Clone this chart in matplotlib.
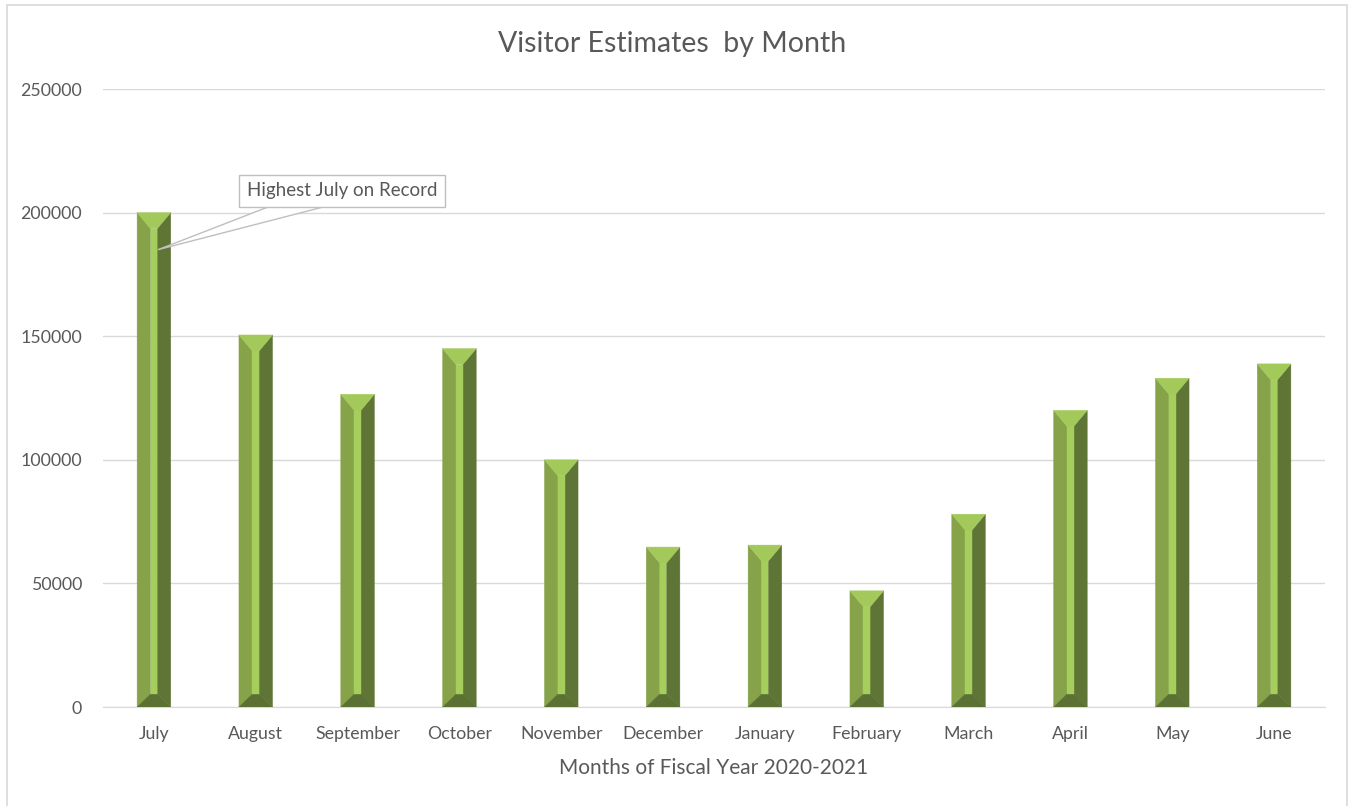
import matplotlib
matplotlib.use("Agg")
import matplotlib.pyplot as plt
from matplotlib.patches import Polygon, Rectangle
import numpy as np

# ---------------- data ----------------
months = ["July", "August", "September", "October", "November", "December",
          "January", "February", "March", "April", "May", "June"]
visitors = [200000, 150500, 126500, 145000, 100000, 64700,
            65500, 47000, 78000, 120000, 133000, 138800]
y_ticks = [0, 50000, 100000, 150000, 200000, 250000]
title = "Visitor Estimates  by Month"
x_title = "Months of Fiscal Year 2020-2021"
note = "Highest July on Record"
note_month = 0
note_value = 185000

# ---------------- style ----------------
txt = "#595959"
grid_c = "#D9D9D9"
c_left, c_mid, c_top, c_right, c_bot = "#86A349", "#A6CE5C", "#A2C95A", "#5E7535", "#5B7033"
plt.rcParams['font.family'] = ['Lato', 'DejaVu Sans']

fig = plt.figure(figsize=(13.49, 8.06), dpi=100)
ax = fig.add_axes([103/1349, 99/806, 1222/1349, 618/806])

x = np.arange(len(months))
bw = 0.33
ax.set_xlim(-0.5, len(months) - 0.5)
ax.set_ylim(0, 250000)

# bevel depths in pixels, converted to data units
px_per_unit = 618 / 250000
dy_top = 16 / px_per_unit
dy_bot = 13 / px_per_unit
bx = bw * 0.4

for xi, v in zip(x, visitors):
    L, R = xi - bw/2, xi + bw/2
    T, B = v, 0
    faces = [
        ([(L, T), (L + bx, T - dy_top), (L + bx, B + dy_bot), (L, B)], c_left),
        ([(R, T), (R - bx, T - dy_top), (R - bx, B + dy_bot), (R, B)], c_right),
        ([(L, T), (R, T), (R - bx, T - dy_top), (L + bx, T - dy_top)], c_top),
        ([(L, B), (R, B), (R - bx, B + dy_bot), (L + bx, B + dy_bot)], c_bot),
        ([(L + bx, T - dy_top), (R - bx, T - dy_top), (R - bx, B + dy_bot), (L + bx, B + dy_bot)], c_mid),
    ]
    for pts, c in faces:
        ax.add_patch(Polygon(pts, closed=True, facecolor=c, edgecolor=c, lw=0.3, zorder=3))

ax.set_yticks(y_ticks)
ax.set_yticklabels([str(t) for t in y_ticks])
ax.set_xticks(x)
ax.set_xticklabels(months)
ax.yaxis.grid(True, color=grid_c, lw=1)
ax.set_axisbelow(True)
for s in ["top", "right", "left"]:
    ax.spines[s].set_visible(False)
ax.spines["bottom"].set_color(grid_c)
ax.tick_params(axis="both", length=0, colors=txt, labelsize=12.8)
ax.tick_params(axis="x", pad=14)
ax.tick_params(axis="y", pad=15)

ax.set_xlabel(x_title, color=txt, fontsize=15, labelpad=11)
fig.text(0.498, 0.946, title, ha="center", va="center", color=txt, fontsize=20.5)

# callout: box + wedge pointing at the July bar
box_x, box_y = 0.1956, 0.835
base_l, base_r, base_y = 0.135, 0.180, 0.809
tip = ax.transAxes.inverted().transform(ax.transData.transform((note_month + 0.04, note_value)))
ax.add_patch(Polygon([(base_l, base_y), (base_r, base_y), tuple(tip)], closed=True,
                     transform=ax.transAxes, fc="white", ec="#BFBFBF", lw=1, zorder=4))
ax.text(box_x, box_y, note, transform=ax.transAxes, ha="center", va="center",
        color=txt, fontsize=13.5, zorder=5,
        bbox=dict(boxstyle="square,pad=0.4", fc="white", ec="#BFBFBF", lw=1))

# chart border
fig.patches.append(Rectangle((6.5/1349, -0.01), 1340.5/1349, 1.01 - 4.5/806,
                             transform=fig.transFigure, fill=False, ec="#D9D9D9", lw=1.2))

fig.savefig("out.png", dpi=100, facecolor="white")
